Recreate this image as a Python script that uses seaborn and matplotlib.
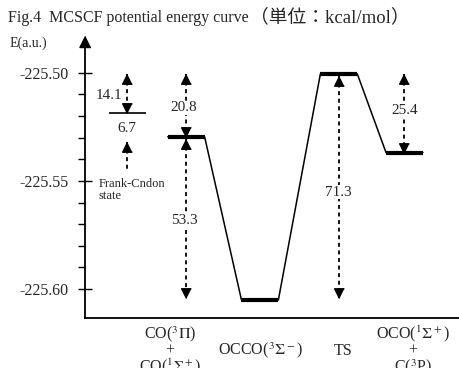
import numpy as np
import pandas as pd
import matplotlib
matplotlib.use('Agg')
import matplotlib.pyplot as plt
import seaborn as sns
from matplotlib.ticker import FixedLocator, FormatStrFormatter

# energy levels (a.u.)
states = ['CO+CO', 'OCCO', 'TS', 'OCO+C']
energy = [-225.5296, -225.6051, -225.5005, -225.5369]
fc_energy = -225.5187  # Frank-Condon state
state_labels = [r'CO($^3\Pi$)' + '\n+\n' + r'CO($^1\Sigma^+$)',
                r'OCCO($^3\Sigma^-$)',
                'TS',
                r'OCO($^1\Sigma^+$)' + '\n+\n' + r'C($^3$P)']
# energy gaps (kcal/mol)
gap_labels = ['14.1', '6.7', '20.8', '53.3', '71.3', '25.4']
yticks = [-225.60, -225.55, -225.50]

sns.set_style('ticks')
plt.rcParams['font.family'] = ['Liberation Serif', 'Noto Sans CJK JP', 'DejaVu Serif']
plt.rcParams['mathtext.fontset'] = 'stix'
plt.rcParams['axes.unicode_minus'] = False

# layout
xpos = np.array([1.0, 2.0, 3.07, 3.96])
fc_x = 0.2
hw = 0.25

fig = plt.figure(figsize=(4.6, 3.68), dpi=100)
ax = fig.add_axes([85 / 460, 50 / 368, 375 / 460, 271 / 368])

# connecting path
path = pd.DataFrame({
    'x': np.ravel(np.column_stack([xpos - hw, xpos + hw])),
    'y': np.repeat(energy, 2),
})
sns.lineplot(data=path, x='x', y='y', sort=False, estimator=None,
             color='black', lw=1.1, ax=ax)
ax.hlines(energy, xpos - hw, xpos + hw, color='black', lw=3)
ax.hlines(fc_energy, fc_x - hw, fc_x + hw, color='black', lw=1.2)

up = [(0, 0), (-0.5, -1), (0.5, -1)]
down = [(0, 0), (-0.5, 1), (0.5, 1)]


def darrow(x, y_top, y_bot, top=True, bot=True):
    ax.plot([x, x], [y_top, y_bot], color='black', lw=1.3, ls=(0, (2.2, 2.0)))
    if top:
        ax.plot(x, y_top, marker=up, ms=14, color='black', ls='none')
    if bot:
        ax.plot(x, y_bot, marker=down, ms=14, color='black', ls='none')


darrow(fc_x, energy[2], fc_energy)
darrow(fc_x, fc_energy - 0.0133, fc_energy - 0.0262, bot=False)
darrow(xpos[0], energy[2], energy[0])
darrow(xpos[0], energy[0] - 0.001, energy[1] + 0.001)
darrow(xpos[2], energy[2] - 0.001, energy[1] + 0.001)
darrow(xpos[3], energy[2], energy[3])

fs = 11
wb = dict(fc='white', ec='none', pad=0.5)
ax.text(-0.04, -225.5103, gap_labels[0], ha='center', va='center', fontsize=fs)
ax.text(fc_x, -225.5256, gap_labels[1], ha='center', va='center', fontsize=fs)
ax.text(xpos[0] - 0.03, -225.5163, gap_labels[2], ha='center', va='center', fontsize=fs, bbox=wb)
ax.text(xpos[0] - 0.03, -225.5682, gap_labels[3], ha='center', va='center', fontsize=fs, bbox=wb)
ax.text(xpos[2] - 0.01, -225.5552, gap_labels[4], ha='center', va='center', fontsize=fs, bbox=wb)
ax.text(xpos[3], -225.5173, gap_labels[5], ha='center', va='center', fontsize=fs, bbox=wb)
ax.text(-0.19, -225.5541, 'Frank-Cndon\nstate', ha='left', va='center',
        fontsize=9, linespacing=1.0)

# state labels under the axis
lab_x = xpos + np.array([-0.22, 0.01, 0.06, 0.11])
for lx, lab in zip(lab_x, state_labels):
    ax.text(lx, -0.12, lab, transform=ax.get_xaxis_transform(), ha='center',
            va='center', fontsize=11.5, linespacing=0.9, multialignment='center')

ax.set_xlim(-0.372, 4.713)
ax.set_ylim(-225.6134, -225.4881)
ax.set_xlabel('')
ax.set_ylabel('')
ax.set_xticks([])
ax.yaxis.set_major_locator(FixedLocator(yticks))
ax.yaxis.set_minor_locator(FixedLocator(np.arange(-225.59, -225.499, 0.01)))
ax.yaxis.set_major_formatter(FormatStrFormatter('%.2f'))
ax.tick_params(axis='y', which='major', direction='inout', length=10, width=1,
               labelsize=11.5, pad=7, color='black')
ax.tick_params(axis='y', which='minor', direction='out', length=5, width=1, color='black')
for s in ['top', 'right']:
    ax.spines[s].set_visible(False)
for s in ['left', 'bottom']:
    ax.spines[s].set_linewidth(1.3)
    ax.spines[s].set_color('black')
ax.plot(0, 1, marker=[(0, 1), (-0.5, 0), (0.5, 0)], ms=16, color='black',
        transform=ax.transAxes, clip_on=False)

fig.text(10 / 460, 1 - 43 / 368, 'E(a.u.)', ha='left', va='center', fontsize=10)
ty = 1 - 22 / 368
fig.text(8 / 460, ty, 'Fig.4  MCSCF potential energy curve', ha='left', va='baseline',
         fontsize=11.5)
fig.text(250 / 460, ty, '（単位：kcal/mol）', ha='left', va='baseline', fontsize=13.5,
         family=['Liberation Serif', 'Noto Sans CJK JP'])

fig.savefig('out.png', dpi=100)
